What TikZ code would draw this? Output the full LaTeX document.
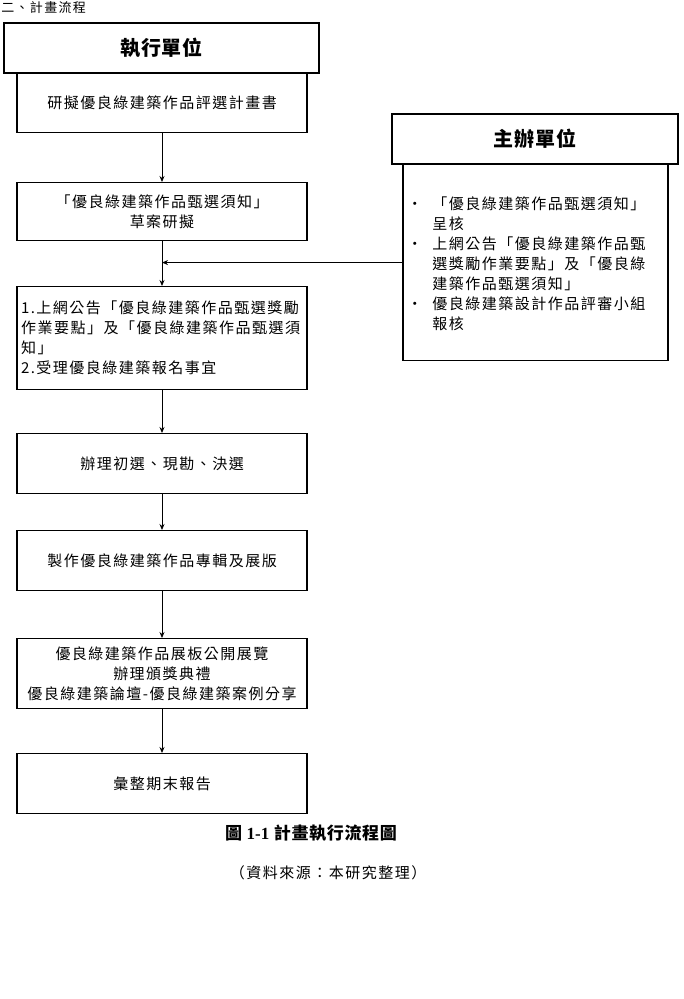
\documentclass[tikz,border=0pt]{standalone}
\usepackage{fontspec}
\setmainfont{Liberation Serif}
\newfontfamily\cjk[LetterSpace=10]{Noto Sans CJK TC}
\newfontfamily\cjkhead[LetterSpace=4]{Noto Sans CJK TC}
\usetikzlibrary{arrows.meta,positioning}

\begin{document}
\begin{tikzpicture}[>={Stealth[length=6pt,width=5pt]}, line width=0.8pt, x=1pt, y=-1pt,
    stepbox/.style={draw, line width=1.1pt, minimum width=290pt, inner sep=4pt,
        font=\cjk\fontsize{15}{20}\selectfont, align=center},
    headbox/.style={draw, line width=1.1pt, minimum height=50pt,
        font=\cjkhead\bfseries\fontsize{20}{24}\selectfont}]
    % Page frame
    \useasboundingbox (0,0) rectangle (683,999);

    % Section title
    \node[anchor=west, inner sep=0pt, font=\cjk\fontsize{13}{16}\selectfont] (title) at (1,8) {二、計畫流程};

    % Executing unit column
    \node[headbox, minimum width=315pt] (execHead) at (161.5,48) {執行單位};
    \node[stepbox, minimum height=59pt, anchor=north] (plan) at (162,73) {研擬優良綠建築作品評選計畫書};
    \node[stepbox, minimum height=58pt, anchor=north] (draft) at (162,182) {「優良綠建築作品甄選須知」\\草案研擬};
    \node[stepbox, minimum height=103pt, anchor=north, text width=282pt, align=left] (announce) at (162,286)
        {1.上網公告「優良綠建築作品甄選獎勵\\作業要點」及「優良綠建築作品甄選須\\知」\\2.受理優良綠建築報名事宜};
    \node[stepbox, minimum height=60pt, anchor=north] (select) at (162,433) {辦理初選、現勘、決選};
    \node[stepbox, minimum height=60pt, anchor=north] (album) at (162,530) {製作優良綠建築作品專輯及展版};
    \node[stepbox, minimum height=70pt, anchor=north] (expo) at (162,638)
        {優良綠建築作品展板公開展覽\\辦理頒獎典禮\\優良綠建築論壇-優良綠建築案例分享};
    \node[stepbox, minimum height=60pt, anchor=north] (report) at (162,753) {彙整期末報告};

    % Host unit column
    \node[headbox, minimum width=286pt] (hostHead) at (535,139) {主辦單位};
    \node[draw, line width=1.1pt, minimum width=265pt, minimum height=196pt, anchor=north] (hostBody) at (535.5,164) {};
    \node[anchor=north west, inner sep=0pt, align=left, font=\cjk\fontsize{15}{20}\selectfont] (hostText) at (407,196)
        {\makebox[25pt][l]{·}「優良綠建築作品甄選須知」\\
         \hspace*{25pt}呈核\\
         \makebox[25pt][l]{·}上網公告「優良綠建築作品甄\\
         \hspace*{25pt}選獎勵作業要點」及「優良綠\\
         \hspace*{25pt}建築作品甄選須知」\\
         \makebox[25pt][l]{·}優良綠建築設計作品評審小組\\
         \hspace*{25pt}報核};

    % Connectors
    \coordinate (join) at (draft.south |- hostBody.west);
    \draw[->] (plan) -- (draft);
    \draw[->] (draft) -- (announce);
    \draw[->] (hostBody.west) -- (join);
    \draw[->] (announce) -- (select);
    \draw[->] (select) -- (album);
    \draw[->] (album) -- (expo);
    \draw[->] (expo) -- (report);

    % Caption and source
    \node[font=\cjkhead\bfseries\fontsize{17}{20}\selectfont] (caption) at (311,833) {圖 {\rmfamily\bfseries 1-1} 計畫執行流程圖};
    \node[font=\cjk\fontsize{15}{18}\selectfont] (source) at (328,873) {（資料來源：本研究整理）};
\end{tikzpicture}
\end{document}
